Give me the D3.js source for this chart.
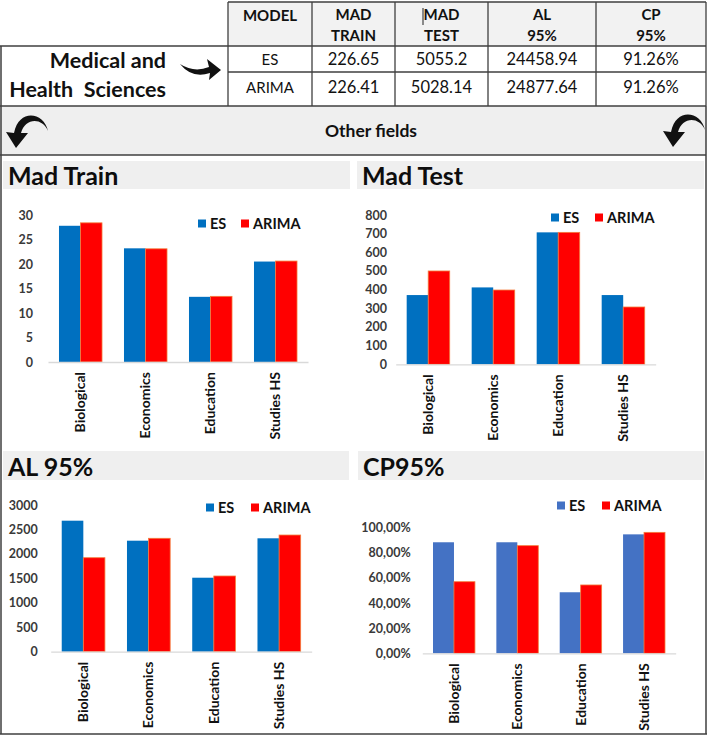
<!DOCTYPE html>
<html>
<head>
<meta charset="utf-8">
<script src="https://cdn.jsdelivr.net/npm/d3@7"></script>
<style>
  html, body { margin: 0; padding: 0; background: #ffffff; }
  svg { display: block; font-family: Lato, "Open Sans", sans-serif; }
</style>
</head>
<body>
<svg id="chart" width="708" height="736"></svg>
<script>
// ---------- DATA ----------
const tableHeader = [["MODEL"], ["MAD", "TRAIN"], ["MAD", "TEST"], ["AL", "95%"], ["CP", "95%"]];
const esRow = ["ES", "226.65", "5055.2", "24458.94", "91.26%"];
const arimaRow = ["ARIMA", "226.41", "5028.14", "24877.64", "91.26%"];
const groupLabel = ["Medical and", "Health  Sciences"];
const bandLabel = "Other fields";

const categories = ["Biological", "Economics", "Education", "Studies HS"];
const seriesNames = ["ES", "ARIMA"];

const madTrainES = [27.8, 23.2, 13.3, 20.5];
const madTrainARIMA = [28.4, 23.1, 13.4, 20.6];
const madTrainTicks = [0, 5, 10, 15, 20, 25, 30];

const madTestES = [371, 412, 707, 371];
const madTestARIMA = [500, 398, 707, 307];
const madTestTicks = [0, 100, 200, 300, 400, 500, 600, 700, 800];

const al95ES = [2679, 2270, 1513, 2319];
const al95ARIMA = [1922, 2319, 1548, 2386];
const al95Ticks = [0, 500, 1000, 1500, 2000, 2500, 3000];

const cp95ES = [88.4, 88.4, 48.6, 94.7];
const cp95ARIMA = [57.0, 85.7, 54.4, 96.3];
const cp95Ticks = [0, 20, 40, 60, 80, 100];

// ---------- DRAW ----------
const svg = d3.select("#chart");
const lineColor = "#3f3f3f";

// Other fields band
svg.append("rect").attr("x", 0).attr("y", 106).attr("width", 706).attr("height", 49).attr("fill", "#efefef");
// header fill
svg.append("rect").attr("x", 228).attr("y", 2).attr("width", 478).attr("height", 44).attr("fill", "#f2f2f2");

// table
const colX = [228, 312, 395, 488, 596, 706];
const hLines = [
  [228, 706, 2], [0, 706, 46], [228, 706, 72], [0, 706, 106], [0, 706, 155], [0, 707, 734]
];
hLines.forEach(([a, b, y]) => svg.append("line").attr("x1", a).attr("x2", b).attr("y1", y).attr("y2", y)
  .attr("stroke", lineColor).attr("stroke-width", 1.5));
colX.forEach((x, i) => svg.append("line").attr("x1", x).attr("x2", x).attr("y1", 2).attr("y2", 106)
  .attr("stroke", lineColor).attr("stroke-width", 1.3));
// outer borders
svg.append("line").attr("x1", 1).attr("x2", 1).attr("y1", 46).attr("y2", 734).attr("stroke", lineColor).attr("stroke-width", 1.5);
svg.append("line").attr("x1", 706).attr("x2", 706).attr("y1", 106).attr("y2", 734).attr("stroke", lineColor).attr("stroke-width", 1.5);

tableHeader.forEach((lines, i) => {
  const cx = (colX[i] + colX[i + 1]) / 2;
  const t = svg.append("text").attr("x", cx).attr("text-anchor", "middle")
    .attr("font-size", 15).attr("font-weight", 700).attr("fill", "#111");
  if (lines.length === 1) {
    t.attr("y", 21).text(lines[0]);
  } else {
    lines.forEach((l, j) => t.append("tspan").attr("x", cx).attr("y", 20 + j * 21).text(l));
  }
});
// cursor artifact in MAD TEST header
svg.append("line").attr("x1", 423).attr("x2", 423).attr("y1", 8).attr("y2", 25).attr("stroke", "#222").attr("stroke-width", 1);

[esRow, arimaRow].forEach((row, r) => {
  row.forEach((v, i) => {
    const cx = (colX[i] + colX[i + 1]) / 2;
    svg.append("text").attr("x", cx).attr("y", r === 0 ? 65 : 93)
      .attr("text-anchor", "middle").attr("font-size", i === 0 ? 15 : 16.5)
      .attr("fill", "#111").text(v);
  });
});

svg.append("text").attr("x", 166).attr("y", 68).attr("text-anchor", "end")
  .attr("font-size", 21.5).attr("font-weight", 700).attr("fill", "#111").text(groupLabel[0]);
svg.append("text").attr("x", 166).attr("y", 97).attr("text-anchor", "end")
  .attr("font-size", 21.5).attr("font-weight", 700).attr("fill", "#111")
  .attr("xml:space", "preserve").style("white-space", "pre").text(groupLabel[1]);

// right swoosh arrow
svg.append("path")
  .attr("d", "M180,64 Q194,73 209,67 L207,59 L221,70 L209,80 L210,73 Q192,79 180,64 Z")
  .attr("fill", "#111");

svg.append("text").attr("x", 371).attr("y", 137).attr("text-anchor", "middle")
  .attr("font-size", 17.5).attr("font-weight", 700).attr("fill", "#111").text(bandLabel);

// curved arrows
const curvedArrow = "M48,131 C44,112 19,108 14,133 L6,132 L16,148 L28,133 L21,133 C25,118 42,117 48,131 Z";
svg.append("path").attr("d", curvedArrow).attr("fill", "#111");
svg.append("path").attr("d", curvedArrow).attr("transform", "translate(657,-1)").attr("fill", "#111");

// ---------- CHARTS ----------
const charts = [
  { title: "Mad Train", es: madTrainES, arima: madTrainARIMA, ticks: madTrainTicks, fmt: d => d,
    band: [3, 161, 347, 28], titleY: 185, x0: 48, x1: 308, y0: 362, yTop: 215, labelRight: 33,
    legendY: 224, legendES: 198, legendAR: 241, esColor: "#0070c0" },
  { title: "Mad Test", es: madTestES, arima: madTestARIMA, ticks: madTestTicks, fmt: d => d,
    band: [357, 161, 347, 28], titleY: 185, x0: 395.7, x1: 655.7, y0: 364.3, yTop: 215, labelRight: 387,
    legendY: 218, legendES: 551, legendAR: 595, esColor: "#0070c0" },
  { title: "AL 95%", es: al95ES, arima: al95ARIMA, ticks: al95Ticks, fmt: d => d,
    band: [3, 451, 346, 29], titleY: 476, x0: 50.7, x1: 311.7, y0: 651.7, yTop: 505, labelRight: 37.7,
    legendY: 508, legendES: 206, legendAR: 251, esColor: "#0070c0" },
  { title: "CP95%", es: cp95ES, arima: cp95ARIMA, ticks: cp95Ticks,
    fmt: d => d3.format(".2f")(d).replace(".", ",") + "%",
    band: [358, 451, 346, 29], titleY: 476, x0: 422.3, x1: 675.7, y0: 653.3, yTop: 527.7, labelRight: 410.7,
    legendY: 506, legendES: 557, legendAR: 602, esColor: "#4472c4" }
];

charts.forEach(c => {
  const g = svg.append("g");
  g.append("rect").attr("x", c.band[0]).attr("y", c.band[1]).attr("width", c.band[2]).attr("height", c.band[3])
    .attr("fill", "#efefef");
  g.append("text").attr("x", c.band[0] + 5).attr("y", c.titleY).attr("font-size", 25).attr("font-weight", 700)
    .attr("fill", "#0d0d0d").text(c.title);

  const tmax = c.ticks[c.ticks.length - 1];
  const y = d3.scaleLinear().domain([0, tmax]).range([c.y0, c.yTop]);
  const x = d3.scaleBand().domain(categories).range([c.x0, c.x1]).paddingInner(0.338).paddingOuter(0.169);
  const xs = d3.scaleBand().domain(seriesNames).range([0, x.bandwidth()]);

  const rows = categories.map((cat, i) => ({ cat, ES: c.es[i], ARIMA: c.arima[i] }));
  const grp = g.selectAll("g.cat").data(rows).join("g").attr("transform", d => `translate(${x(d.cat)},0)`);
  grp.selectAll("rect").data(d => seriesNames.map(s => ({ s, v: d[s] }))).join("rect")
    .attr("x", d => xs(d.s)).attr("width", xs.bandwidth())
    .attr("y", d => y(d.v)).attr("height", d => c.y0 - y(d.v))
    .attr("fill", d => d.s === "ES" ? c.esColor : "#ff0000")
    .attr("stroke", d => d.s === "ES" ? "none" : "#f47c3c").attr("stroke-width", 0.8);

  // y axis labels
  const ya = g.append("g").attr("transform", `translate(${c.labelRight},0)`)
    .call(d3.axisLeft(y).tickValues(c.ticks).tickFormat(c.fmt).tickSize(0).tickPadding(0));
  ya.select(".domain").remove();
  ya.selectAll("text").attr("font-size", 12.5).attr("font-weight", 700).attr("fill", "#3a3a3a")
    .attr("font-family", "Lato, sans-serif");

  // x axis
  const xa = g.append("g").attr("transform", `translate(0,${c.y0})`)
    .call(d3.axisBottom(x).tickSize(0).tickPadding(0));
  xa.select(".domain").attr("stroke", "#d9d9d9").attr("stroke-width", 1.3);
  xa.selectAll("text").attr("font-size", 14).attr("font-weight", 700).attr("fill", "#111")
    .attr("font-family", "Lato, sans-serif")
    .attr("text-anchor", "end").attr("x", 0).attr("y", 0).attr("dy", "0.35em")
    .attr("transform", "translate(0,10) rotate(-90)");

  // legend
  const lg = g.append("g");
  [[c.legendES, "ES", c.esColor], [c.legendAR, "ARIMA", "#ff0000"]].forEach(([lx, name, col]) => {
    lg.append("rect").attr("x", lx).attr("y", c.legendY - 4.5).attr("width", 8).attr("height", 8).attr("fill", col);
    lg.append("text").attr("x", lx + 12).attr("y", c.legendY).attr("dy", "0.35em")
      .attr("font-size", 14.5).attr("font-weight", 700).attr("fill", "#111").text(name);
  });
});
</script>
</body>
</html>
